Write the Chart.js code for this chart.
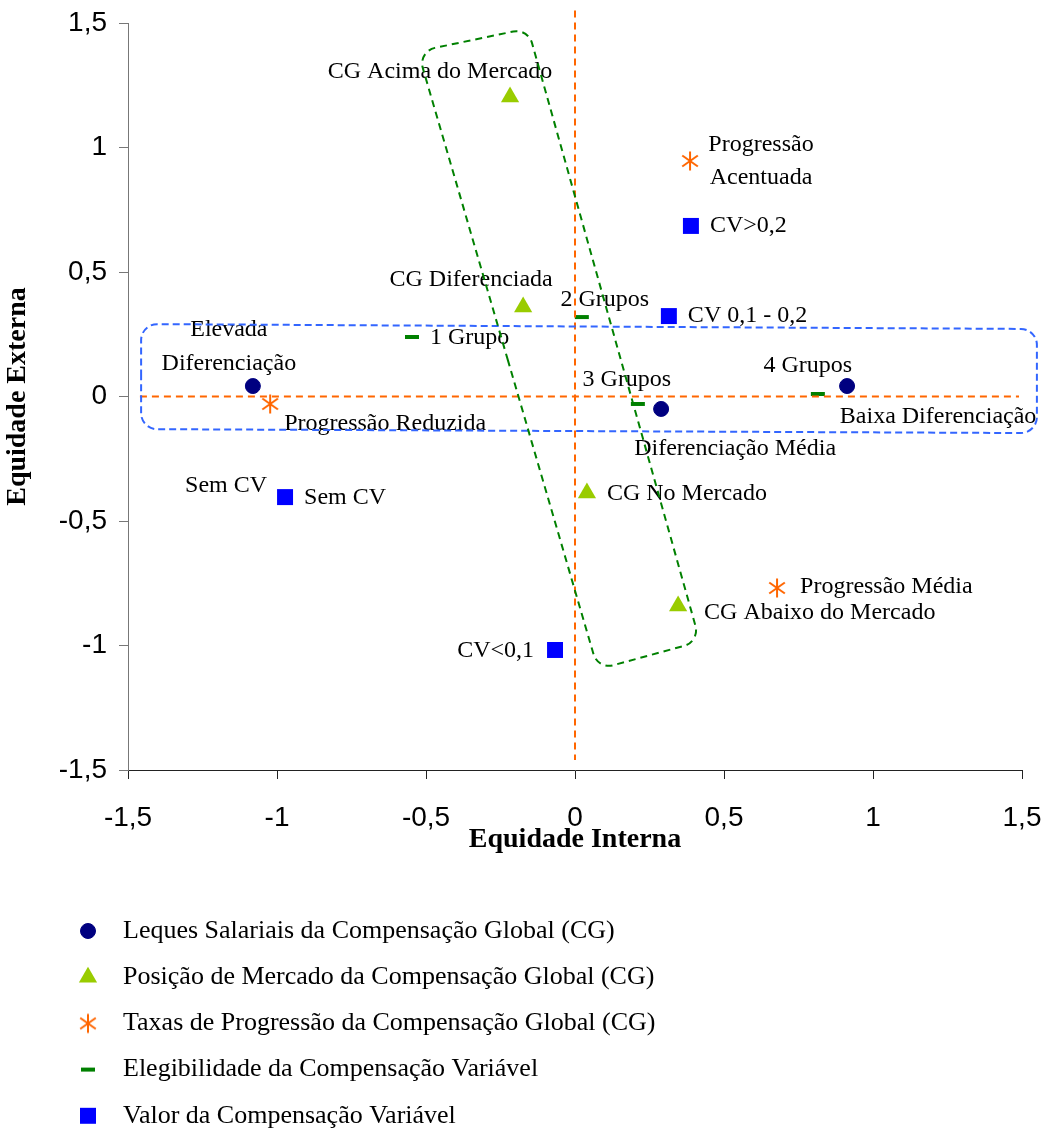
<!DOCTYPE html>
<html>
<head>
<meta charset="utf-8">
<script src="https://cdn.jsdelivr.net/npm/chart.js@4/dist/chart.umd.min.js"></script>
<style>
html,body{margin:0;padding:0;background:#fff;}
canvas{display:block;}
</style>
</head>
<body>
<canvas id="c" width="1045" height="1133"></canvas>
<script>
// ---------- DATA ----------
const xTicks = [-1.5, -1, -0.5, 0, 0.5, 1, 1.5];
const yTicks = [-1.5, -1, -0.5, 0, 0.5, 1, 1.5];
const xTitle = "Equidade Interna";
const yTitle = "Equidade Externa";
const seriesNames = [
  "Leques Salariais da Compensação Global (CG)",
  "Posição de Mercado da Compensação Global (CG)",
  "Taxas de Progressão da Compensação Global (CG)",
  "Elegibilidade da Compensação Variável",
  "Valor da Compensação Variável"
];

const lequesX = [-1.081, 0.289, 0.913];
const lequesY = [0.042, -0.050, 0.042];
const lequesLabels = [["Elevada", "Diferenciação"], ["Diferenciação Média"], ["Baixa Diferenciação"]];

const mercadoX = [-0.218, -0.174, 0.040, 0.346];
const mercadoY = [1.203, 0.359, -0.388, -0.841];
const mercadoLabels = [["CG Acima do Mercado"], ["CG Diferenciada"], ["CG No Mercado"], ["CG Abaixo do Mercado"]];

const progressaoX = [0.386, -1.023, 0.678];
const progressaoY = [0.946, -0.030, -0.769];
const progressaoLabels = [["Progressão", "Acentuada"], ["Progressão Reduzida"], ["Progressão Média"]];

const elegX = [-0.547, 0.023, 0.211, 0.815];
const elegY = [0.239, 0.319, -0.030, 0.010];
const elegLabels = [["1 Grupo"], ["2 Grupos"], ["3 Grupos"], ["4 Grupos"]];

const valorX = [0.389, 0.315, -0.973, -0.067];
const valorY = [0.685, 0.323, -0.404, -1.018];
const valorLabels = [["CV>0,2"], ["CV 0,1 - 0,2"], ["Sem CV"], ["CV<0,1"]];
const extraLabelText = "Sem CV"; // second label next to the "Sem CV" square

// Decorative reference shapes (data units)
const vRefLine = { x: 0, yFrom: 1.55, yTo: -1.46 };
const hRefLine = { y: 0, xFrom: -1.46, xTo: 1.49 };
const blueBoxX = [-1.456, 1.550, 1.550, -1.456];
const blueBoxY = [0.291, 0.271, -0.147, -0.131];
const greenBoxX = [-0.527, -0.158, 0.419, 0.077];
const greenBoxY = [1.386, 1.478, -0.984, -1.096];

// ---------- LAYOUT / STYLE (pixel offsets of labels from their markers) ----------
// [dx, dy, align, lineGap]
const labelLayout = [
  [[-24, -56, 'center', 34], [74, 40, 'center', 0], [91, 31, 'center', 0]],
  [[-70, -25, 'center', 0], [-52, -27, 'center', 0], [20, 1, 'left', 0], [26, 7, 'left', 0]],
  [[71, -16, 'center', 33], [115, 20, 'center', 0], [23, -1, 'left', 0]],
  [[18, 1, 'left', 0], [23, -17, 'center', 0], [-11, -24, 'center', 0], [-10, -28, 'center', 0]],
  [[19, 0, 'left', 0], [19, 0, 'left', 0], [19, 1, 'left', 0], [-21, 1, 'right', 0]]
];
const extraLabelLayout = { series: 4, index: 2, dx: -18, dy: -11, align: 'right' };

// asterisk marker image
function makeAsterisk(color) {
  const c = document.createElement('canvas');
  c.width = 22; c.height = 22;
  const g = c.getContext('2d');
  g.strokeStyle = color; g.lineWidth = 2; g.lineCap = 'butt';
  const cx = 11, cy = 11, L = 9.5;
  [0, 55, -55].forEach(a => {
    const r = a * Math.PI / 180;
    g.beginPath();
    g.moveTo(cx - Math.sin(r) * L, cy - Math.cos(r) * L);
    g.lineTo(cx + Math.sin(r) * L, cy + Math.cos(r) * L);
    g.stroke();
  });
  return c;
}
const asteriskImg = makeAsterisk('#FF6600');

function pts(xs, ys) { return xs.map((x, i) => ({ x: x, y: ys[i] })); }

const allLabels = [lequesLabels, mercadoLabels, progressaoLabels, elegLabels, valorLabels];

const datasets = [
  { label: seriesNames[0], data: pts(lequesX, lequesY), pointStyle: 'circle', pointRadius: 7.5,
    backgroundColor: '#000080', borderColor: '#000080', pointBorderWidth: 1 },
  { label: seriesNames[1], data: pts(mercadoX, mercadoY), pointStyle: 'triangle', pointRadius: 10.5,
    backgroundColor: '#99CC00', borderColor: '#99CC00', pointBorderWidth: 0 },
  { label: seriesNames[2], data: pts(progressaoX, progressaoY), pointStyle: asteriskImg, pointRadius: 10,
    backgroundColor: '#FF6600', borderColor: '#FF6600', pointBorderWidth: 0 },
  { label: seriesNames[3], data: pts(elegX, elegY), pointStyle: 'line', pointRadius: 7,
    backgroundColor: '#008000', borderColor: '#008000', pointBorderWidth: 4 },
  { label: seriesNames[4], data: pts(valorX, valorY), pointStyle: 'rect', pointRadius: 11.3,
    backgroundColor: '#0000FF', borderColor: '#0000FF', pointBorderWidth: 0 }
];

function roundedPoly(ctx, P, r) {
  const n = P.length;
  const mid = (a, b) => [(a[0] + b[0]) / 2, (a[1] + b[1]) / 2];
  const m0 = mid(P[n - 1], P[0]);
  ctx.beginPath();
  ctx.moveTo(m0[0], m0[1]);
  for (let i = 0; i < n; i++) {
    const c = P[i], nx = P[(i + 1) % n];
    ctx.arcTo(c[0], c[1], nx[0], nx[1], r);
  }
  ctx.closePath();
}

const decorPlugin = {
  id: 'decor',
  afterDatasetsDraw(chart) {
    const ctx = chart.ctx;
    const xs = chart.scales.x, ys = chart.scales.y;
    ctx.save();
    // point labels
    ctx.fillStyle = '#000';
    ctx.font = '24px "Liberation Serif", "Times New Roman", serif';
    ctx.textBaseline = 'middle';
    allLabels.forEach((labs, si) => {
      const meta = chart.getDatasetMeta(si);
      labs.forEach((lines, i) => {
        const el = meta.data[i];
        const [dx, dy, align, gap] = labelLayout[si][i];
        ctx.textAlign = align;
        lines.forEach((t, k) => ctx.fillText(t, el.x + dx, el.y + dy + k * gap));
      });
    });
    {
      const el = chart.getDatasetMeta(extraLabelLayout.series).data[extraLabelLayout.index];
      ctx.textAlign = extraLabelLayout.align;
      ctx.fillText(extraLabelText, el.x + extraLabelLayout.dx, el.y + extraLabelLayout.dy);
    }
    // orange reference lines
    ctx.setLineDash([7, 5]);
    ctx.lineWidth = 2;
    ctx.strokeStyle = '#FF6600';
    ctx.beginPath();
    ctx.moveTo(xs.getPixelForValue(vRefLine.x), ys.getPixelForValue(vRefLine.yFrom));
    ctx.lineTo(xs.getPixelForValue(vRefLine.x), ys.getPixelForValue(vRefLine.yTo));
    ctx.stroke();
    ctx.beginPath();
    ctx.moveTo(xs.getPixelForValue(hRefLine.xFrom), ys.getPixelForValue(hRefLine.y));
    ctx.lineTo(xs.getPixelForValue(hRefLine.xTo), ys.getPixelForValue(hRefLine.y));
    ctx.stroke();
    // blue box
    ctx.strokeStyle = '#3366FF';
    ctx.setLineDash([7, 4]);
    roundedPoly(ctx, blueBoxX.map((x, i) => [xs.getPixelForValue(x), ys.getPixelForValue(blueBoxY[i])]), 16);
    ctx.stroke();
    // green box
    ctx.strokeStyle = '#008000';
    ctx.setLineDash([7, 5]);
    roundedPoly(ctx, greenBoxX.map((x, i) => [xs.getPixelForValue(x), ys.getPixelForValue(greenBoxY[i])]), 16);
    ctx.stroke();
    ctx.restore();
  },
  afterDraw(chart) {
    // legend
    const ctx = chart.ctx;
    ctx.save();
    const x0 = 88, tx = 123, y0 = 931, dy = 46.2;
    chart.data.datasets.forEach((ds, i) => {
      const y = y0 + i * dy;
      ctx.fillStyle = ds.backgroundColor;
      ctx.strokeStyle = ds.borderColor;
      ctx.lineWidth = ds.pointBorderWidth;
      ctx.setLineDash([]);
      Chart.helpers.drawPoint(ctx, {
        pointStyle: ds.pointStyle, radius: ds.pointRadius, rotation: 0, borderWidth: ds.pointBorderWidth
      }, x0, y);
      ctx.fillStyle = '#000';
      ctx.font = '26px "Liberation Serif", "Times New Roman", serif';
      ctx.textAlign = 'left';
      ctx.textBaseline = 'middle';
      ctx.fillText(ds.label, tx, y);
    });
    ctx.restore();
  }
};

const fmt = v => String(v).replace('.', ',');

new Chart(document.getElementById('c'), {
  type: 'scatter',
  data: { datasets: datasets },
  plugins: [decorPlugin],
  options: {
    responsive: false,
    animation: false,
    events: [],
    layout: { padding: { left: 0, top: 23, right: 23, bottom: 272 } },
    plugins: { legend: { display: false }, tooltip: { enabled: false } },
    scales: {
      x: {
        type: 'linear', min: -1.5, max: 1.5,
        afterBuildTicks: s => { s.ticks = xTicks.map(v => ({ value: v })); },
        afterFit: s => { s.height = 91; s.paddingLeft = 0; s.paddingRight = 0; },
        grid: { drawOnChartArea: false, drawTicks: true, tickLength: 9, color: '#222' },
        border: { display: true, color: '#222', width: 1 },
        ticks: { callback: fmt, color: '#000', padding: 22, maxRotation: 0, autoSkip: false,
                 font: { family: '"Liberation Sans", Arial, sans-serif', size: 28 } },
        title: { display: true, text: xTitle, color: '#000', padding: { top: 4, bottom: 4 },
                 font: { family: '"Liberation Serif", "Times New Roman", serif', size: 28, weight: 'bold' } }
      },
      y: {
        type: 'linear', min: -1.5, max: 1.5,
        afterBuildTicks: s => { s.ticks = yTicks.map(v => ({ value: v })); },
        afterFit: s => { s.width = 128; s.paddingTop = 0; s.paddingBottom = 0; },
        grid: { drawOnChartArea: false, drawTicks: true, tickLength: 9, color: '#777' },
        border: { display: true, color: '#777', width: 1 },
        ticks: { callback: fmt, color: '#000', padding: 12, autoSkip: false,
                 font: { family: '"Liberation Sans", Arial, sans-serif', size: 28 } },
        title: { display: true, text: yTitle, color: '#000', padding: { top: 1, bottom: 4 },
                 font: { family: '"Liberation Serif", "Times New Roman", serif', size: 28, weight: 'bold' } }
      }
    }
  }
});
</script>
</body>
</html>
